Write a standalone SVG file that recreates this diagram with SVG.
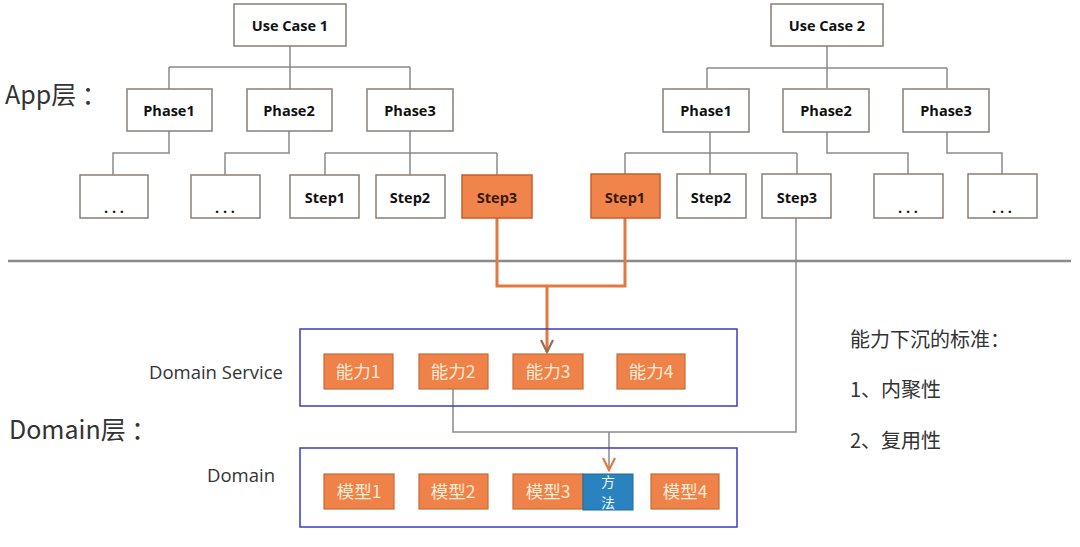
<svg xmlns="http://www.w3.org/2000/svg" width="1080" height="547" viewBox="0 0 1080 547">
<defs>
<style>
.box{fill:#fff;stroke:#8a7d75;stroke-width:1.5}
.obox{fill:#f0844b;stroke:#c0622b;stroke-width:1.5}
.cap{fill:#ef8249;stroke:#c96a36;stroke-width:1.2}
.fm{fill:#2a82bf;stroke:#1f6a9c;stroke-width:1}
.grp{fill:none;stroke:#3d3dbf;stroke-width:1.5}
.t{font-family:"Open Sans","Liberation Sans",sans-serif;font-weight:700;font-size:14.5px;fill:#111;text-anchor:middle}
.ct{font-family:"Noto Sans CJK SC","Liberation Sans",sans-serif;font-size:17.5px;fill:#fdebd6;text-anchor:middle}
.ft{font-family:"Noto Sans CJK SC","Liberation Sans",sans-serif;font-size:14px;fill:#eef6ff;text-anchor:middle}
.lab{font-family:"Open Sans","Noto Sans CJK SC",sans-serif;fill:#333}
.cn{font-family:"Noto Sans CJK SC","Liberation Sans",sans-serif;fill:#333}
.ln{fill:none;stroke:#8a8a8a;stroke-width:1.5}
.ol{fill:none;stroke:#e07a40;stroke-width:3}
</style>
<marker id="ah1" markerWidth="16" markerHeight="14" refX="13" refY="7" orient="auto" markerUnits="userSpaceOnUse">
<path d="M1,1 L13,7 L1,13" fill="none" stroke="#9a6a55" stroke-width="2.2"/>
</marker>
<marker id="ah2" markerWidth="16" markerHeight="14" refX="13" refY="7" orient="auto" markerUnits="userSpaceOnUse">
<path d="M1,1 L13,7 L1,13" fill="none" stroke="#e07a40" stroke-width="2.2"/>
</marker>
</defs>
<rect width="1080" height="547" fill="#fff"/>

<g id="connectors">
<path class="ln" d="M290,46 V67 M169,67 H410 M169,67 V89 M290,67 V89 M410,67 V89"/>
<path class="ln" d="M169,131 V153 H113 V175 M289,131 V153 H225 V175 M410,131 V175 M325,153 H497 M325,153 V175 M497,153 V175"/>
<path class="ln" d="M827,46 V68 M707,68 H947 M707,68 V88 M827,68 V88 M947,68 V88"/>
<path class="ln" d="M710,132 V174 M625,153 H797 M625,153 V174 M797,153 V174 M827,132 V153 H908 V174 M947,132 V153 H1002 V174"/>
<path d="M8,261 H1071" fill="none" stroke="#8a8a8a" stroke-width="2.5"/>
<path class="ol" d="M497,218 V286 H625 V218"/>
<path class="ol" d="M547,286 V352" marker-end="url(#ah1)"/>
<path class="ln" d="M796,218 V432 H453 V389"/>
<path class="ln" d="M609,432 V470" marker-end="url(#ah2)"/>
</g>

<g id="usecase1"><rect class="box" x="234" y="4" width="112" height="42"/><text class="t" x="290" y="31">Use Case 1</text></g>
<g id="u1-phase1"><rect class="box" x="127" y="89" width="85" height="42"/><text class="t" x="169" y="116">Phase1</text></g>
<g id="u1-phase2"><rect class="box" x="247" y="89" width="85" height="42"/><text class="t" x="289" y="116">Phase2</text></g>
<g id="u1-phase3"><rect class="box" x="367" y="89" width="86" height="42"/><text class="t" x="410" y="116">Phase3</text></g>
<g id="u1-more1"><rect class="box" x="80" y="175" width="68" height="43"/><text class="t" x="114" y="213">. . .</text></g>
<g id="u1-more2"><rect class="box" x="191" y="175" width="69" height="43"/><text class="t" x="225" y="213">. . .</text></g>
<g id="u1-step1"><rect class="box" x="290" y="175" width="69" height="43"/><text class="t" x="325" y="203">Step1</text></g>
<g id="u1-step2"><rect class="box" x="376" y="175" width="69" height="43"/><text class="t" x="410" y="203">Step2</text></g>
<g id="u1-step3"><rect class="obox" x="462" y="175" width="70" height="43"/><text class="t" x="497" y="203" style="fill:#3a1a0a">Step3</text></g>

<g id="usecase2"><rect class="box" x="771" y="4" width="112" height="42"/><text class="t" x="827" y="31">Use Case 2</text></g>
<g id="u2-phase1"><rect class="box" x="663" y="89" width="86" height="43"/><text class="t" x="706" y="116">Phase1</text></g>
<g id="u2-phase2"><rect class="box" x="783" y="89" width="86" height="43"/><text class="t" x="826" y="116">Phase2</text></g>
<g id="u2-phase3"><rect class="box" x="903" y="89" width="86" height="43"/><text class="t" x="946" y="116">Phase3</text></g>
<g id="u2-step1"><rect class="obox" x="591" y="174" width="69" height="44"/><text class="t" x="625" y="203" style="fill:#3a1a0a">Step1</text></g>
<g id="u2-step2"><rect class="box" x="677" y="174" width="69" height="44"/><text class="t" x="711" y="203">Step2</text></g>
<g id="u2-step3"><rect class="box" x="762" y="174" width="69" height="44"/><text class="t" x="797" y="203">Step3</text></g>
<g id="u2-more1"><rect class="box" x="874" y="174" width="69" height="44"/><text class="t" x="908" y="213">. . .</text></g>
<g id="u2-more2"><rect class="box" x="968" y="174" width="69" height="44"/><text class="t" x="1002" y="213">. . .</text></g>

<g id="labels">
<text class="cn" x="5" y="104" font-size="25">App层 ：</text>
<text class="cn" x="9" y="439" font-size="25">Domain层 ：</text>
<text class="lab" x="283" y="379" font-size="18.5" text-anchor="end">Domain Service</text>
<text class="lab" x="275" y="482" font-size="18.5" text-anchor="end">Domain</text>
<text class="cn" x="850" y="347" font-size="20">能力下沉的标准：</text>
<text class="cn" x="850" y="397" font-size="20">1、内聚性</text>
<text class="cn" x="850" y="448" font-size="20">2、复用性</text>
</g>

<g id="domain-service">
<rect class="grp" x="300" y="329" width="437" height="77"/>
<g id="cap1"><rect class="cap" x="324" y="354" width="69" height="35"/><text class="ct" x="358" y="378">能力1</text></g>
<g id="cap2"><rect class="cap" x="419" y="354" width="69" height="35"/><text class="ct" x="453" y="378">能力2</text></g>
<g id="cap3"><rect class="cap" x="513" y="354" width="70" height="35"/><text class="ct" x="548" y="378">能力3</text></g>
<g id="cap4"><rect class="cap" x="617" y="354" width="68" height="35"/><text class="ct" x="651" y="378">能力4</text></g>
</g>

<g id="domain">
<rect class="grp" x="300" y="448" width="437" height="79"/>
<g id="model1"><rect class="cap" x="324" y="474" width="70" height="35"/><text class="ct" x="359" y="498">模型1</text></g>
<g id="model2"><rect class="cap" x="419" y="474" width="69" height="35"/><text class="ct" x="453" y="498">模型2</text></g>
<g id="model3"><rect class="cap" x="513" y="474" width="70" height="35"/><text class="ct" x="548" y="498">模型3</text></g>
<g id="method"><rect class="fm" x="583" y="474" width="50" height="36"/><text class="ft" x="608" y="487">方</text><text class="ft" x="608" y="508">法</text></g>
<g id="model4"><rect class="cap" x="651" y="474" width="68" height="35"/><text class="ct" x="685" y="498">模型4</text></g>
</g>
</svg>
